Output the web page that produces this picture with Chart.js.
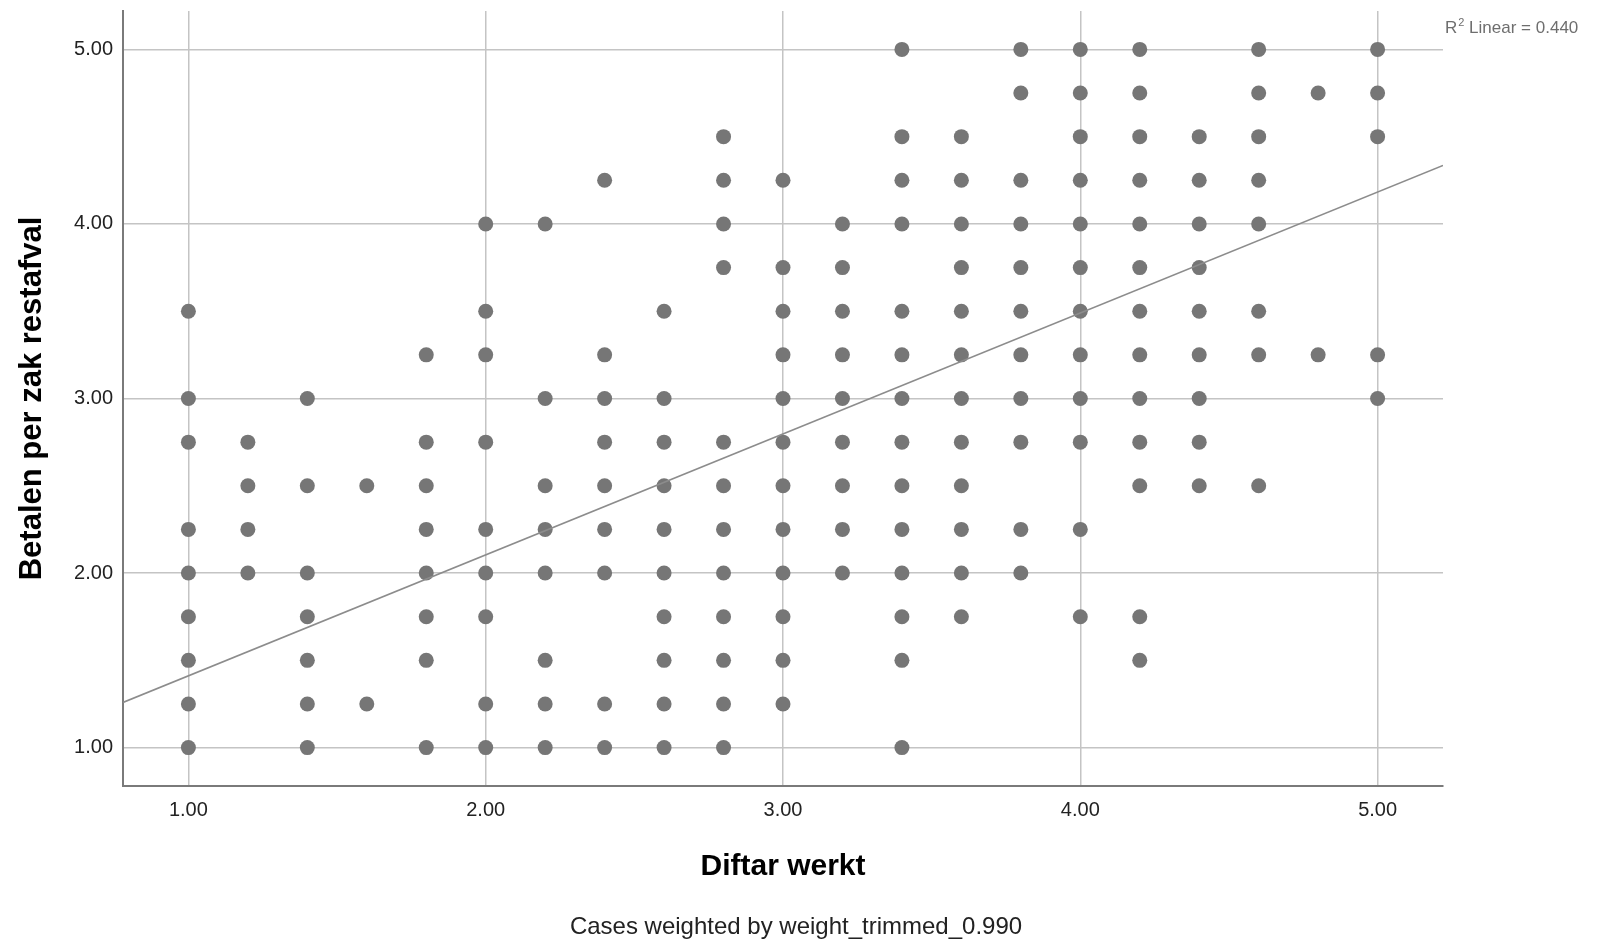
<!DOCTYPE html>
<html>
<head>
<meta charset="utf-8">
<title>Diftar werkt vs Betalen per zak restafval</title>
<script src="https://cdn.jsdelivr.net/npm/chart.js@4.4.1/dist/chart.umd.min.js"></script>
<style>
    html, body { margin: 0; padding: 0; background: #fff; }
    #wrap { width: 1620px; height: 939px; position: relative; }
</style>
</head>
<body>
<div id="wrap"><canvas id="scatter"></canvas></div>
<script>
// x levels of "Diftar werkt"
var diftarLevels = [1.0, 1.2, 1.4, 1.6, 1.8, 2.0, 2.2, 2.4, 2.6, 2.8, 3.0,
                    3.2, 3.4, 3.6, 3.8, 4.0, 4.2, 4.4, 4.6, 4.8, 5.0];

// "Betalen per zak restafval" values seen at each level (same order as above)
var betalenPerLevel = [
    [3.5, 3.0, 2.75, 2.25, 2.0, 1.75, 1.5, 1.25, 1.0],
    [2.75, 2.5, 2.25, 2.0],
    [3.0, 2.5, 2.0, 1.75, 1.5, 1.25, 1.0],
    [2.5, 1.25],
    [3.25, 2.75, 2.5, 2.25, 2.0, 1.75, 1.5, 1.0],
    [4.0, 3.5, 3.25, 2.75, 2.25, 2.0, 1.75, 1.25, 1.0],
    [4.0, 3.0, 2.5, 2.25, 2.0, 1.5, 1.25, 1.0],
    [4.25, 3.25, 3.0, 2.75, 2.5, 2.25, 2.0, 1.25, 1.0],
    [3.5, 3.0, 2.75, 2.5, 2.25, 2.0, 1.75, 1.5, 1.25, 1.0],
    [4.5, 4.25, 4.0, 3.75, 2.75, 2.5, 2.25, 2.0, 1.75, 1.5, 1.25, 1.0],
    [4.25, 3.75, 3.5, 3.25, 3.0, 2.75, 2.5, 2.25, 2.0, 1.75, 1.5, 1.25],
    [4.0, 3.75, 3.5, 3.25, 3.0, 2.75, 2.5, 2.25, 2.0],
    [5.0, 4.5, 4.25, 4.0, 3.5, 3.25, 3.0, 2.75, 2.5, 2.25, 2.0, 1.75, 1.5, 1.0],
    [4.5, 4.25, 4.0, 3.75, 3.5, 3.25, 3.0, 2.75, 2.5, 2.25, 2.0, 1.75],
    [5.0, 4.75, 4.25, 4.0, 3.75, 3.5, 3.25, 3.0, 2.75, 2.25, 2.0],
    [5.0, 4.75, 4.5, 4.25, 4.0, 3.75, 3.5, 3.25, 3.0, 2.75, 2.25, 1.75],
    [5.0, 4.75, 4.5, 4.25, 4.0, 3.75, 3.5, 3.25, 3.0, 2.75, 2.5, 1.75, 1.5],
    [4.5, 4.25, 4.0, 3.75, 3.5, 3.25, 3.0, 2.75, 2.5],
    [5.0, 4.75, 4.5, 4.25, 4.0, 3.5, 3.25, 2.5],
    [4.75, 3.25],
    [5.0, 4.75, 4.5, 3.25, 3.0]
];

var tickValues = [1, 2, 3, 4, 5];
var axisMin = 0.78;
var axisMax = 5.22;

// linear fit line, R2 Linear = 0.440
var fitIntercept = 0.718;
var fitSlope = 0.693;
var rSquared = 0.440;

var xTitle = 'Diftar werkt';
var yTitle = 'Betalen per zak restafval';
var footnote = 'Cases weighted by weight_trimmed_0.990';

var points = [];
for (var i = 0; i < diftarLevels.length; i++) {
    for (var j = 0; j < betalenPerLevel[i].length; j++) {
        points.push({ x: diftarLevels[i], y: betalenPerLevel[i][j] });
    }
}

var fitLine = [
    { x: axisMin, y: fitIntercept + fitSlope * axisMin },
    { x: axisMax, y: fitIntercept + fitSlope * axisMax }
];

var FONT = "'Liberation Sans', Arial, sans-serif";
var gridColor = '#c4c4c4';
var axisColor = '#7a7a7a';

function fixedTicks(scale) {
    scale.ticks = tickValues.map(function (v) { return { value: v }; });
}

// footnote and R2 label
var notes = {
    id: 'notes',
    afterDraw: function (chart) {
        var ctx = chart.ctx;
        var area = chart.chartArea;
        ctx.save();
        ctx.fillStyle = '#222';
        ctx.font = '24px ' + FONT;
        ctx.textAlign = 'center';
        ctx.textBaseline = 'alphabetic';
        ctx.fillText(footnote, 796, 934);

        ctx.fillStyle = '#6e6e6e';
        ctx.textAlign = 'left';
        var x = area.right + 2;
        var y = 33;
        ctx.font = '17px ' + FONT;
        ctx.fillText('R', x, y);
        x += ctx.measureText('R').width;
        ctx.font = '11px ' + FONT;
        ctx.fillText('2', x + 1, y - 7);
        x += ctx.measureText('2').width + 1;
        ctx.font = '17px ' + FONT;
        ctx.fillText(' Linear = ' + rSquared.toFixed(3), x, y);
        ctx.restore();
    }
};

var ctx = document.getElementById('scatter');

new Chart(ctx, {
    type: 'scatter',
    data: {
        datasets: [
            {
                label: 'Fit',
                type: 'line',
                data: fitLine,
                borderColor: '#8c8c8c',
                borderWidth: 1.6,
                pointRadius: 0,
                fill: false,
                order: 0
            },
            {
                label: 'Cases',
                data: points,
                backgroundColor: '#767676',
                borderColor: '#767676',
                borderWidth: 0,
                pointRadius: 7.5,
                order: 1
            }
        ]
    },
    options: {
        responsive: true,
        maintainAspectRatio: false,
        animation: false,
        layout: { padding: { left: 0, right: 177, top: 11, bottom: 0 } },
        plugins: {
            legend: { display: false },
            tooltip: { enabled: false }
        },
        scales: {
            x: {
                type: 'linear',
                min: axisMin,
                max: axisMax,
                afterBuildTicks: fixedTicks,
                afterFit: function (scale) {
                    scale.height = 153;
                    scale.paddingLeft = 0;
                    scale.paddingRight = 0;
                },
                grid: { color: gridColor, lineWidth: 1.5, drawTicks: false },
                border: { color: axisColor, width: 2 },
                ticks: {
                    padding: 12,
                    color: '#222',
                    font: { family: FONT, size: 20 },
                    callback: function (v) { return v.toFixed(2); }
                },
                title: {
                    display: true,
                    text: xTitle,
                    color: '#000',
                    font: { family: FONT, size: 30, weight: 'bold' },
                    padding: { top: 0, bottom: 54 }
                }
            },
            y: {
                type: 'linear',
                min: axisMin,
                max: axisMax,
                afterBuildTicks: fixedTicks,
                afterFit: function (scale) {
                    scale.width = 123;
                    scale.paddingTop = 0;
                    scale.paddingBottom = 0;
                },
                grid: { color: gridColor, lineWidth: 1.5, drawTicks: false },
                border: { color: axisColor, width: 2 },
                ticks: {
                    padding: 10,
                    color: '#222',
                    font: { family: FONT, size: 20 },
                    callback: function (v) { return v.toFixed(2); }
                },
                title: {
                    display: true,
                    text: yTitle,
                    color: '#000',
                    font: { family: FONT, size: 31, weight: 'bold' },
                    padding: { top: 14, bottom: 0 }
                }
            }
        }
    },
    plugins: [notes]
});
</script>
</body>
</html>
